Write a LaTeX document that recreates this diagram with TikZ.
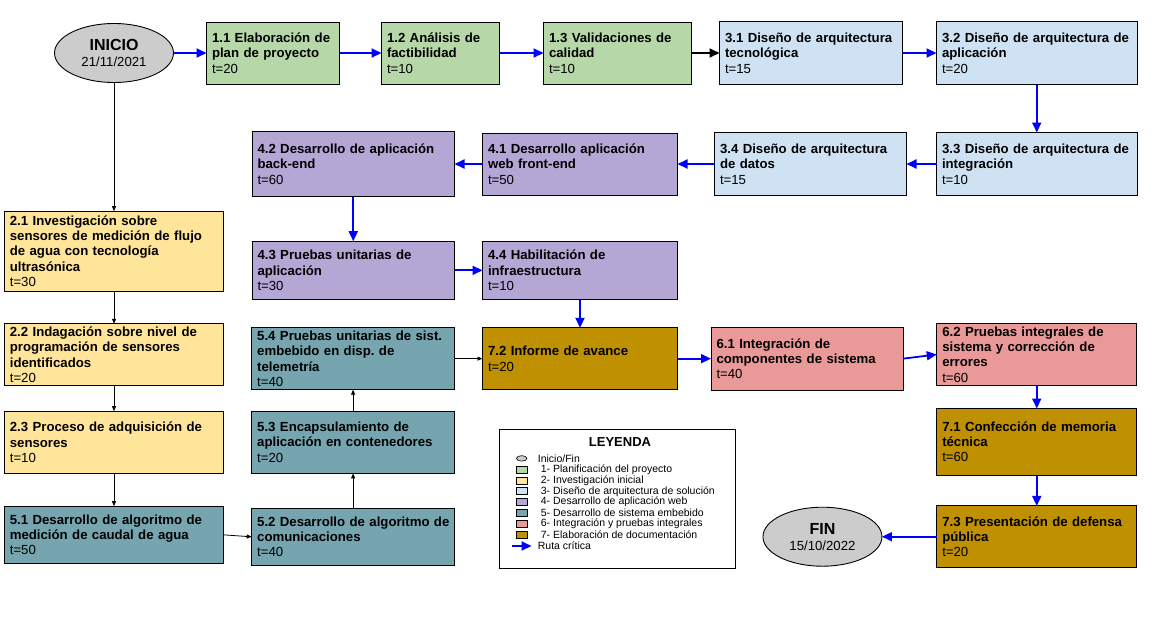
\documentclass[tikz,border=0pt]{standalone}
\usepackage{fontspec}
\setmainfont{Liberation Sans}
\usetikzlibrary{arrows.meta,positioning,shapes.geometric}

\definecolor{planc}{HTML}{B6D7A8}
\definecolor{invc}{HTML}{FFE599}
\definecolor{arqc}{HTML}{CFE2F3}
\definecolor{webc}{HTML}{B4A7D6}
\definecolor{embc}{HTML}{76A5AF}
\definecolor{intc}{HTML}{EA9999}
\definecolor{docc}{HTML}{BF9000}
\definecolor{termc}{HTML}{CCCCCC}

% bold title line that never wraps
\newcommand{\tline}[1]{\mbox{\textbf{#1}}}

\begin{document}
\begin{tikzpicture}[x=1pt, y=-1pt,
    task/.style={draw, line width=0.9pt, align=left, inner xsep=5.5pt, inner ysep=0pt,
                 outer sep=0pt, font=\fontsize{13.2}{15.3}\selectfont},
    plan/.style={task, fill=planc},
    inv/.style={task, fill=invc},
    arq/.style={task, fill=arqc},
    web/.style={task, fill=webc},
    emb/.style={task, fill=embc},
    integ/.style={task, fill=intc},
    docu/.style={task, fill=docc},
    term/.style={ellipse, draw, line width=0.9pt, fill=termc, align=center, inner sep=0pt,
                 outer sep=0pt, minimum width=119pt, minimum height=59pt,
                 font=\fontsize{13.2}{16}\selectfont},
    crit/.style={-{Triangle[length=10pt,width=9pt]}, line width=1.8pt, blue},
    critk/.style={crit, black},
    flow/.style={-{Triangle[length=5pt,width=4pt]}, line width=0.8pt},
    swatch/.style={draw, line width=0.6pt, inner sep=0pt, minimum width=10.7pt, minimum height=7pt},
    legtxt/.style={anchor=west, inner sep=0pt, font=\fontsize{10.5}{12}\selectfont},
  ]
    \useasboundingbox (0,0) rectangle (1161,625);

    % ---- start and first phase (top row) ----
    \node[term] (ini) at (114,53) {\textbf{\fontsize{16}{16}\selectfont INICIO}\\21/11/2021};
    \node[plan, right=33pt of ini, text width=122pt, minimum height=62pt] (t11)
        {\tline{1.1 Elaboración de}\\\tline{plan de proyecto}\\t=20};
    \node[plan, right=42pt of t11, text width=107pt, minimum height=62pt] (t12)
        {\tline{1.2 Análisis de}\\\tline{factibilidad}\\t=10};
    \node[plan, right=44pt of t12, text width=137pt, minimum height=62pt] (t13)
        {\tline{1.3 Validaciones de}\\\tline{calidad}\\t=10};
    \node[arq, right=28pt of t13, text width=172pt, minimum height=63pt] (t31)
        {\tline{3.1 Diseño de arquitectura}\\\tline{tecnológica}\\t=15};
    \node[arq, right=34pt of t31, text width=189.5pt, minimum height=63pt] (t32)
        {\tline{3.2 Diseño de arquitectura de}\\\tline{aplicación}\\t=20};

    % ---- second row: back from right to left ----
    \node[arq, below=48pt of t32, text width=189.5pt, minimum height=63pt] (t33)
        {\tline{3.3 Diseño de arquitectura de}\\\tline{integración}\\t=10};
    \node[arq, left=30pt of t33, text width=181pt, minimum height=63pt] (t34)
        {\tline{3.4 Diseño de arquitectura}\\\tline{de datos}\\t=15};
    \node[web, left=37pt of t34, text width=184pt, minimum height=62pt] (t41)
        {\tline{4.1 Desarrollo aplicación}\\\tline{web front-end}\\t=50};
    \node[web, left=28pt of t41, text width=191.5pt, minimum height=65.6pt] (t42)
        {\tline{4.2 Desarrollo de aplicación}\\\tline{back-end}\\t=60};
    \node[web, below=44.4pt of t42, text width=191.5pt, minimum height=58.3pt] (t43)
        {\tline{4.3 Pruebas unitarias de}\\\tline{aplicación}\\t=30};
    \node[web, right=28pt of t43, text width=184pt, minimum height=58.3pt] (t44)
        {\tline{4.4 Habilitación de}\\\tline{infraestructura}\\t=10};

    % ---- integration and documentation ----
    \node[docu, below=28.3pt of t44, text width=184pt, minimum height=61.7pt] (t72)
        {\tline{7.2 Informe de avance}\\t=20};
    \node[integ, right=33.5pt of t72, text width=181pt, minimum height=63.3pt] (t61)
        {\tline{6.1 Integración de}\\\tline{componentes de sistema}\\t=40};
    \node[integ, below=128pt of t33, text width=189pt, minimum height=62pt] (t62)
        {\tline{6.2 Pruebas integrales de}\\\tline{sistema y corrección de}\\\tline{errores}\\t=60};
    \node[docu, below=23pt of t62, text width=189pt, minimum height=66.7pt] (t71)
        {\tline{7.1 Confección de memoria}\\\tline{técnica}\\t=60};
    \node[docu, below=30.7pt of t71, text width=189pt, minimum height=61.6pt] (t73)
        {\tline{7.3 Presentación de defensa}\\\tline{pública}\\t=20};
    \node[term, left=54.8pt of t73] (fin) {\textbf{\fontsize{16}{16}\selectfont FIN}\\15/10/2022};

    % ---- research column (left) ----
    \node[inv, below=128.7pt of ini, text width=208.3pt, minimum height=80pt] (t21)
        {\tline{2.1 Investigación sobre}\\\tline{sensores de medición de flujo}\\\tline{de agua con tecnología}\\\tline{ultrasónica}\\t=30};
    \node[inv, below=32.6pt of t21, text width=208.3pt, minimum height=61.7pt] (t22)
        {\tline{2.2 Indagación sobre nivel de}\\\tline{programación de sensores}\\\tline{identificados}\\t=20};
    \node[inv, below=25.7pt of t22, text width=208.3pt, minimum height=62.3pt] (t23)
        {\tline{2.3 Proceso de adquisición de}\\\tline{sensores}\\t=10};
    \node[emb, below=32.7pt of t23, text width=208.3pt, minimum height=57.3pt] (t51)
        {\tline{5.1 Desarrollo de algoritmo de}\\\tline{medición de caudal de agua}\\t=50};

    % ---- embedded system column ----
    \node[emb, left=28pt of t72, text width=191.8pt, minimum height=62pt] (t54)
        {\tline{5.4 Pruebas unitarias de sist.}\\\tline{embebido en disp.\ de}\\\tline{telemetría}\\t=40};
    \node[emb, below=21.4pt of t54, text width=191.8pt, minimum height=62.3pt] (t53)
        {\tline{5.3 Encapsulamiento de}\\\tline{aplicación en contenedores}\\t=20};
    \node[emb, below=34.8pt of t53, text width=191.8pt, minimum height=57.3pt] (t52)
        {\tline{5.2 Desarrollo de algoritmo de}\\\tline{comunicaciones}\\t=40};

    % ---- critical path ----
    \draw[crit] (ini) -- (t11);
    \draw[crit] (t11) -- (t12);
    \draw[crit] (t12) -- (t13);
    \draw[critk] (t13) -- (t31);
    \draw[crit] (t31) -- (t32);
    \draw[crit] (t32) -- (t33);
    \draw[crit] (t33) -- (t34);
    \draw[crit] (t34) -- (t41);
    \draw[crit] (t41) -- (t42);
    \draw[crit] (t42) -- (t43);
    \draw[crit] (t43) -- (t44);
    \draw[crit] (t44) -- (t72);
    \draw[crit] (t72.east) -- (t61.west);
    \draw[crit] (t61.east) -- (t62.west);
    \draw[crit] (t62) -- (t71);
    \draw[crit] (t71) -- (t73);
    \draw[crit] (t73) -- (fin);

    % ---- other dependencies ----
    \draw[flow] (ini.south) -- (t21.north);
    \draw[flow] (t21) -- (t22);
    \draw[flow] (t22) -- (t23);
    \draw[flow] (t23) -- (t51);
    \draw[flow] (t51.east) -- (t52.west);
    \draw[flow] (t52) -- (t53);
    \draw[flow] (t53) -- (t54);
    \draw[flow] (t54.east) -- (t72.west);

    % ---- legend ----
    \node[draw, line width=0.9pt, inner sep=0pt, minimum width=236pt, minimum height=139pt] (lgd) at (617.7,498.7) {};
    \node[font=\fontsize{13}{13}\selectfont\bfseries, inner sep=0pt] (lgdt) at ([xshift=2.3pt,yshift=-13pt]lgd.north) {LEYENDA};
    \node[ellipse, draw, line width=0.6pt, fill=termc, inner sep=0pt, minimum width=10.5pt, minimum height=5.5pt] (lgdi) at (521.7,458.4) {};
    \node[legtxt] (lgdit) at (537.7,458.4) {Inicio/Fin};
    \foreach \col/\txt [count=\i] in {planc/1- Planificación del proyecto,
        invc/2- Investigación inicial, arqc/3- Diseño de arquitectura de solución,
        webc/4- Desarrollo de aplicación web, embc/5- Desarrollo de sistema embebido,
        intc/6- Integración y pruebas integrales, docc/7- Elaboración de documentación}
    {
      \node[swatch, fill=\col] (sw\i) at (521.7,{458.4+\i*10.95}) {};
      \node[legtxt] (lt\i) at (540.7,{458.4+\i*10.95}) {\txt};
    }
    \coordinate (lra) at (511.7,546);
    \coordinate (lrb) at (531.5,546);
    \draw[crit] (lra) -- (lrb);
    \node[legtxt] (lrt) at (537.7,546) {Ruta crítica};
\end{tikzpicture}
\end{document}
